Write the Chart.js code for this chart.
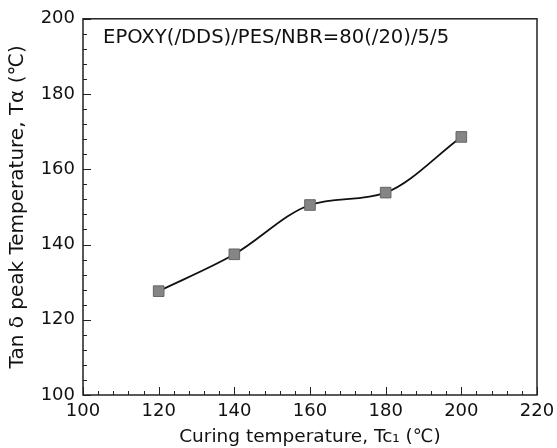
<!DOCTYPE html>
<html>
<head>
<meta charset="utf-8">
<script src="https://cdn.jsdelivr.net/npm/chart.js@4.4.1/dist/chart.umd.min.js"></script>
<style>
  html, body { margin: 0; padding: 0; background: #fff; }
  #wrap { width: 557px; height: 448px; }
</style>
</head>
<body>
<div id="wrap"><canvas id="tanChart" width="557" height="448"></canvas></div>
<script>
// donnees
const tempCuisson = [120, 140, 160, 180, 200];
const tempPic = [127.6, 137.4, 150.5, 153.8, 168.6];
const ticksX = [100, 120, 140, 160, 180, 200, 220];
const ticksY = [100, 120, 140, 160, 180, 200];
const legende = 'EPOXY(/DDS)/PES/NBR=80(/20)/5/5';

const police = '"DejaVu Sans", "Liberation Sans", sans-serif';

// petites graduations vers l'interieur + texte dans le cadre
const graduations = {
    id: 'graduations',
    afterDraw(chart) {
        const ctx = chart.ctx;
        const x = chart.scales.x;
        const y = chart.scales.y;
        const a = chart.chartArea;
        ctx.save();
        ctx.strokeStyle = '#222';
        ctx.lineWidth = 1;
        ctx.beginPath();
        for (let v = 100; v <= 220; v += 4) {
            const px = Math.round(x.getPixelForValue(v)) + 0.5;
            const len = (v % 20 === 0) ? 8 : 4;
            ctx.moveTo(px, a.bottom);
            ctx.lineTo(px, a.bottom - len);
        }
        for (let v = 100; v <= 200; v += 4) {
            const py = Math.round(y.getPixelForValue(v)) + 0.5;
            const len = (v % 20 === 0) ? 8 : 4;
            ctx.moveTo(a.left, py);
            ctx.lineTo(a.left + len, py);
        }
        ctx.stroke();
        ctx.lineWidth = 1.5;
        ctx.strokeRect(a.left, a.top, a.right - a.left, a.bottom - a.top);

        ctx.fillStyle = '#111';
        ctx.font = '19.6px ' + police;
        ctx.textBaseline = 'middle';
        ctx.textAlign = 'left';
        ctx.fillText(legende, a.left + 20, a.top + 19);
        ctx.restore();
    }
};

new Chart(document.getElementById('tanChart').getContext('2d'), {
    type: 'line',
    data: {
        datasets: [{
            data: tempCuisson.map((t, i) => ({ x: t, y: tempPic[i] })),
            borderColor: '#111',
            borderWidth: 1.8,
            cubicInterpolationMode: 'monotone',
            pointStyle: 'rect',
            pointRadius: 7.5,
            pointBackgroundColor: '#858585',
            pointBorderColor: '#666',
            pointBorderWidth: 1
        }]
    },
    options: {
        responsive: false,
        animation: false,
        layout: { padding: { top: 15, right: 20, left: 0, bottom: 0 } },
        plugins: { legend: { display: false }, tooltip: { enabled: false } },
        scales: {
            x: {
                type: 'linear',
                min: 100,
                max: 220,
                afterBuildTicks: s => { s.ticks = ticksX.map(v => ({ value: v })); },
                afterFit: s => { s.height = 53; s.paddingRight = 0; s.paddingLeft = 0; },
                grid: { display: false, drawTicks: false },
                border: { display: false },
                ticks: { color: '#111', font: { size: 18, family: police }, padding: 6 },
                title: {
                    display: true,
                    text: 'Curing temperature, Tc\u2081 (\u2103)',
                    color: '#111',
                    font: { size: 18.5, family: police },
                    padding: { top: 0, bottom: 0 }
                }
            },
            y: {
                min: 100,
                max: 200,
                afterBuildTicks: s => { s.ticks = ticksY.map(v => ({ value: v })); },
                afterFit: s => { s.width = 83; },
                grid: { display: false, drawTicks: false },
                border: { display: false },
                ticks: { color: '#111', font: { size: 18, family: police }, padding: 8 },
                title: {
                    display: true,
                    text: 'Tan \u03b4 peak Temperature, T\u03b1 (\u2103)',
                    color: '#111',
                    font: { size: 20, family: police },
                    padding: { top: 6, bottom: 0 }
                }
            }
        }
    },
    plugins: [graduations]
});
</script>
</body>
</html>
